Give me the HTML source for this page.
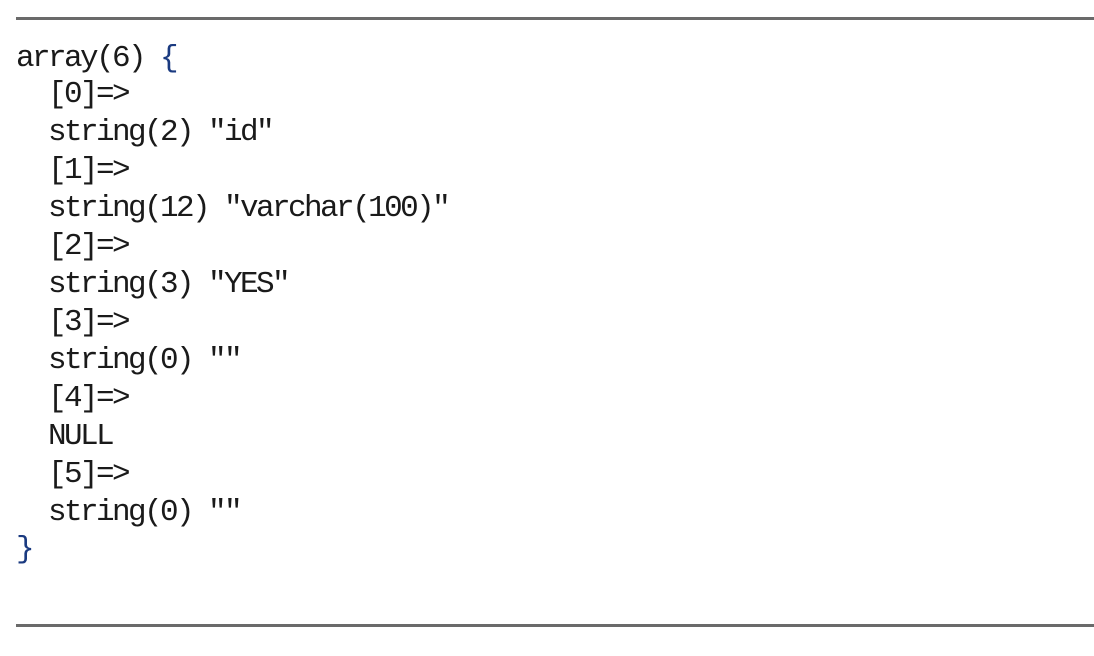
<!DOCTYPE html>
<html><head><meta charset="utf-8"><style>
html,body{margin:0;padding:0;background:#fff;width:1094px;height:656px;overflow:hidden;position:relative}
.rule{position:absolute;left:16px;width:1078px;height:3px;background:#6a6a6a}
.l{position:absolute;left:16px;font-family:"Liberation Mono",monospace;font-size:31px;letter-spacing:-2.6px;color:#1a1a1a;white-space:pre;line-height:38px;height:38px}
.b{color:#1a3a80}
</style></head><body>
<div class="rule" style="top:17px"></div>
<div class="l" style="top:40px">array(6) <span class="b">{</span></div>
<div class="l" style="top:76px">  [0]=&gt;</div>
<div class="l" style="top:114px">  string(2) "id"</div>
<div class="l" style="top:152px">  [1]=&gt;</div>
<div class="l" style="top:190px">  string(12) "varchar(100)"</div>
<div class="l" style="top:228px">  [2]=&gt;</div>
<div class="l" style="top:266px">  string(3) "YES"</div>
<div class="l" style="top:304px">  [3]=&gt;</div>
<div class="l" style="top:342px">  string(0) ""</div>
<div class="l" style="top:380px">  [4]=&gt;</div>
<div class="l" style="top:418px">  NULL</div>
<div class="l" style="top:456px">  [5]=&gt;</div>
<div class="l" style="top:494px">  string(0) ""</div>
<div class="l" style="top:531px"><span class="b">}</span></div>
<div class="rule" style="top:624px"></div>
</body></html>
